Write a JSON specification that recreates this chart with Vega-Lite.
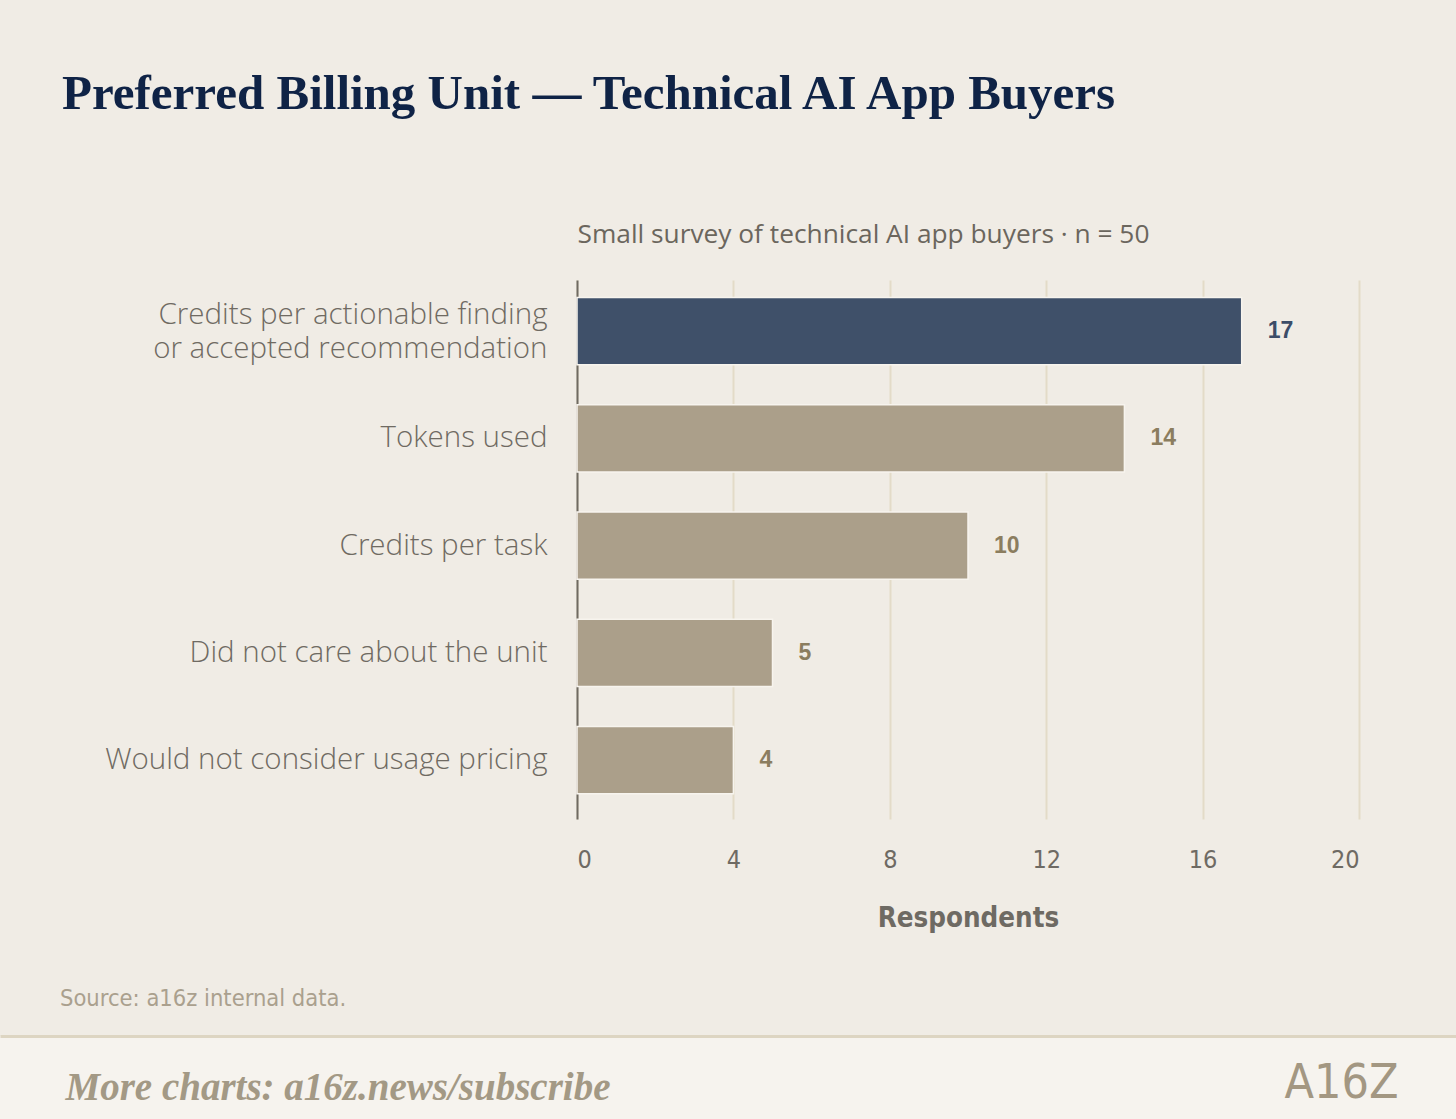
{
  "$schema": "https://vega.github.io/schema/vega-lite/v6.json",
  "background": "#f0ece5",
  "padding": {"left": 0, "top": 70, "right": 0, "bottom": 0},
  "title": {
    "text": "Preferred Billing Unit — Technical AI App Buyers",
    "anchor": "start",
    "frame": "bounds",
    "dx": 62,
    "offset": 102,
    "baseline": "top",
    "font": "Liberation Serif",
    "fontSize": 49,
    "fontWeight": "bold",
    "color": "#0f2346"
  },
  "spacing": 26,
  "vconcat": [
    {
      "width": 1359,
      "height": 539,
      "view": {"stroke": null},
      "title": {
        "text": "Source: a16z internal data.",
        "orient": "bottom",
        "anchor": "start",
        "frame": "bounds",
        "dx": 60,
        "offset": 55,
        "font": "DejaVu Sans Condensed, Roboto, sans-serif",
        "fontSize": 23.5,
        "fontWeight": "normal",
        "color": "#aaa08e"
      },
      "data": {
        "values": [
          {"unit": "Credits per actionable finding or accepted recommendation", "respondents": 17},
          {"unit": "Tokens used", "respondents": 14},
          {"unit": "Credits per task", "respondents": 10},
          {"unit": "Did not care about the unit", "respondents": 5},
          {"unit": "Would not consider usage pricing", "respondents": 4}
        ]
      },
      "encoding": {
        "y": {
          "field": "unit",
          "type": "nominal",
          "sort": null,
          "scale": {"paddingInner": 0.374, "paddingOuter": 0.2, "align": 0.41},
          "axis": {
            "offset": -577,
            "title": "Small survey of technical AI app buyers · n = 50",
            "titleAngle": 0,
            "titleAlign": "left",
            "titleBaseline": "alphabetic",
            "titleX": 0,
            "titleY": -38,
            "titleFont": "Open Sans",
            "titleFontSize": 26.3,
            "titleFontWeight": "normal",
            "titleColor": "#6b665d",
            "labelExpr": "datum.label == 'Credits per actionable finding or accepted recommendation' ? ['Credits per actionable finding', 'or accepted recommendation'] : datum.label",
            "labelOffset": {
              "condition": {"test": "datum.label == 'Credits per actionable finding or accepted recommendation'", "value": -16},
              "value": 0
            },
            "labelFont": "Open Sans",
            "labelFontWeight": 300,
            "labelFontSize": 29.5,
            "labelLineHeight": 34,
            "labelColor": "#6f6a62",
            "labelPadding": 30,
            "labelLimit": 560,
            "ticks": false,
            "domain": true,
            "domainColor": "#6f6a62",
            "domainWidth": 2,
            "maxExtent": 600
          }
        },
        "x": {
          "field": "respondents",
          "type": "quantitative",
          "scale": {"domain": [0, 20], "nice": false, "range": [577, 1359]},
          "axis": {
            "values": [0, 4, 8, 12, 16, 20],
            "grid": true,
            "gridColor": "#e3dbc8",
            "gridWidth": 2,
            "domain": false,
            "ticks": false,
            "labelFont": "DejaVu Sans Condensed, Roboto, sans-serif",
            "labelFontWeight": 300,
            "labelFontSize": 25,
            "labelColor": "#6e6a63",
            "labelPadding": 28,
            "title": "Respondents",
            "titleFont": "DejaVu Sans Condensed, Roboto, sans-serif",
            "titleFontSize": 27.5,
            "titleFontWeight": "bold",
            "titleColor": "#6e6a63",
            "titlePadding": 32
          }
        }
      },
      "layer": [
        {
          "mark": {"type": "bar", "stroke": "#f7f4ee", "strokeWidth": 1.5},
          "encoding": {
            "color": {
              "condition": {"test": "datum.respondents == 17", "value": "#3f5069"},
              "value": "#ab9f8a"
            }
          }
        },
        {
          "mark": {"type": "text", "align": "left", "dx": 26, "font": "Liberation Sans", "fontSize": 23, "fontWeight": "bold"},
          "encoding": {
            "text": {"field": "respondents", "type": "quantitative"},
            "color": {
              "condition": {"test": "datum.respondents == 17", "value": "#3c4d68"},
              "value": "#8b7d5f"
            }
          }
        }
      ]
    },
    {
      "width": 1456,
      "height": 86,
      "view": {"fill": "#f6f3ee", "stroke": null},
      "data": {"values": [{}]},
      "mark": {"type": "point", "opacity": 0, "size": 0},
      "encoding": {
        "x": {
          "datum": 0.5,
          "type": "quantitative",
          "scale": {"domain": [0, 1]},
          "axis": {
            "orient": "top",
            "domain": true,
            "domainColor": "#ddd5c2",
            "domainWidth": 3,
            "ticks": false,
            "labels": false,
            "grid": false,
            "title": "More charts: a16z.news/subscribe",
            "titleAnchor": "start",
            "titleAlign": "left",
            "titleBaseline": "alphabetic",
            "titleX": 65,
            "titleY": 63,
            "titleFont": "Liberation Serif",
            "titleFontStyle": "italic",
            "titleFontWeight": "bold",
            "titleFontSize": 39,
            "titleColor": "#a39985"
          }
        },
        "y": {
          "datum": 0.5,
          "type": "quantitative",
          "scale": {"domain": [0, 1]},
          "axis": {
            "orient": "right",
            "domain": false,
            "ticks": false,
            "labels": false,
            "grid": false,
            "title": "A16Z",
            "titleAngle": 0,
            "titleAlign": "right",
            "titleBaseline": "alphabetic",
            "titleX": -58,
            "titleY": 61,
            "titleFont": "DejaVu Sans Condensed, Roboto, sans-serif",
            "titleFontSize": 48,
            "titleFontWeight": "normal",
            "titleColor": "#a39782"
          }
        }
      }
    }
  ],
  "config": {
    "font": "Lato",
    "view": {"stroke": null}
  }
}
